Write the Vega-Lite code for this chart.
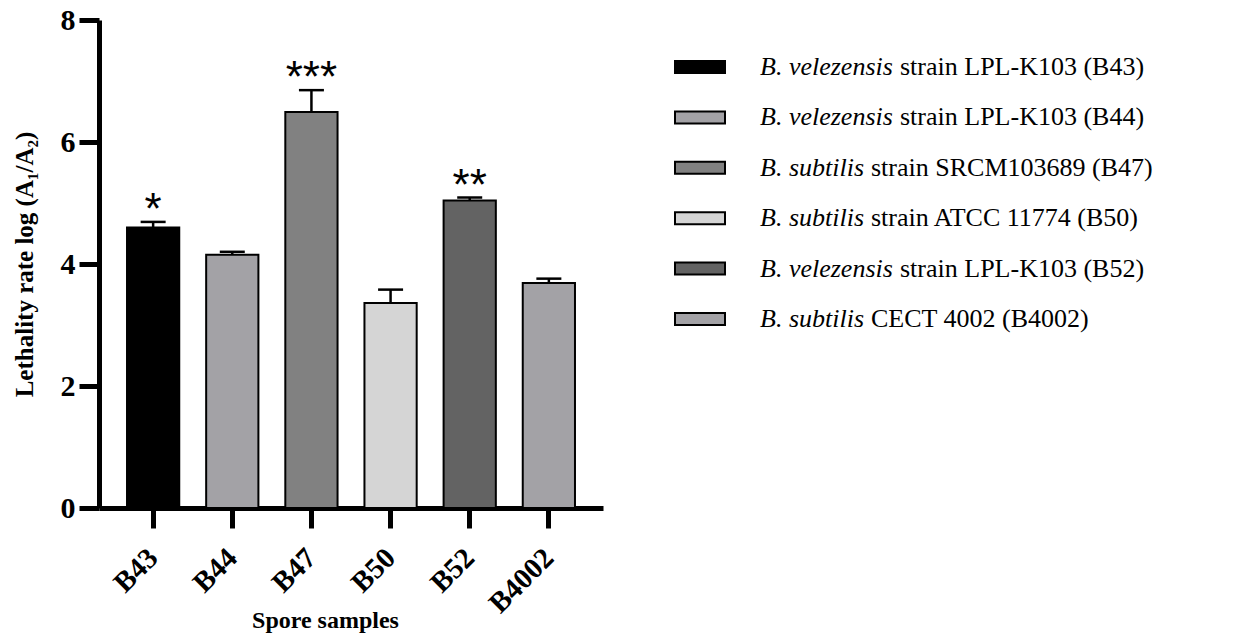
{
  "$schema": "https://vega.github.io/schema/vega-lite/v6.json",
  "padding": {"left": 12, "top": 5, "right": 5, "bottom": 5},
  "background": "white",
  "config": {
    "view": {"stroke": null},
    "font": "Liberation Serif",
    "concat": {"spacing": 47}
  },
  "bounds": "flush",
  "datasets": {
    "spores": [
      {"sample": "B43", "mean": 4.60, "upper": 4.69, "sig": "*", "species": "B. velezensis", "strain": "strain LPL-K103 (B43)"},
      {"sample": "B44", "mean": 4.15, "upper": 4.20, "sig": "", "species": "B. velezensis", "strain": "strain LPL-K103 (B44)"},
      {"sample": "B47", "mean": 6.49, "upper": 6.85, "sig": "***", "species": "B. subtilis", "strain": "strain SRCM103689 (B47)"},
      {"sample": "B50", "mean": 3.36, "upper": 3.58, "sig": "", "species": "B. subtilis", "strain": "strain ATCC 11774 (B50)"},
      {"sample": "B52", "mean": 5.04, "upper": 5.09, "sig": "**", "species": "B. velezensis", "strain": "strain LPL-K103 (B52)"},
      {"sample": "B4002", "mean": 3.69, "upper": 3.76, "sig": "", "species": "B. subtilis", "strain": "CECT 4002 (B4002)"}
    ]
  },
  "resolve": {"scale": {"x": "independent", "y": "independent"}},
  "hconcat": [
    {
      "width": 504,
      "height": 488,
      "data": {"name": "spores"},
      "encoding": {
        "x": {
          "field": "sample",
          "type": "nominal",
          "sort": null,
          "scale": {"type": "band", "paddingInner": 0.34, "paddingOuter": 0.354},
          "axis": {
            "title": "Spore samples",
            "labelAngle": -45,
            "labelAlign": "right",
            "labelBaseline": "middle",
            "labelPadding": 25,
            "labelFont": "Liberation Serif",
            "labelFontSize": 29,
            "labelFontWeight": "bold",
            "labelColor": "black",
            "tickSize": 20,
            "tickWidth": 5,
            "tickColor": "black",
            "domainWidth": 5,
            "domainColor": "black",
            "titleFont": "Liberation Serif",
            "titleFontSize": 24,
            "titleFontWeight": "bold",
            "titleColor": "black",
            "titleX": 226,
            "titleY": 119,
            "titleBaseline": "alphabetic"
          }
        }
      },
      "layer": [
        {
          "mark": {"type": "bar", "stroke": "black", "strokeWidth": 2},
          "encoding": {
            "y": {
              "field": "mean",
              "type": "quantitative",
              "scale": {"domain": [0, 8], "nice": false},
              "axis": {
                "title": "Lethality rate log (A₁/A₂)",
                "values": [0, 2, 4, 6, 8],
                "format": "d",
                "grid": false,
                "labelFont": "Liberation Serif",
                "labelFontSize": 30,
                "labelFontWeight": "bold",
                "labelColor": "black",
                "labelPadding": 4,
                "tickSize": 20,
                "tickWidth": 5,
                "tickColor": "black",
                "domainWidth": 5,
                "domainColor": "black",
                "titleFont": "Liberation Serif",
                "titleFontSize": 25,
                "titleFontWeight": "bold",
                "titleColor": "black",
                "titlePadding": 23
              }
            },
            "fill": {
              "field": "sample",
              "type": "nominal",
              "scale": {
                "domain": ["B43", "B44", "B47", "B50", "B52", "B4002"],
                "range": ["#000000", "#a3a2a6", "#818181", "#d5d5d5", "#636363", "#a3a2a6"]
              },
              "legend": null
            }
          }
        },
        {
          "mark": {"type": "rule", "strokeWidth": 2.5, "color": "black"},
          "encoding": {
            "y": {"field": "mean", "type": "quantitative"},
            "y2": {"field": "upper"}
          }
        },
        {
          "mark": {"type": "tick", "thickness": 2.5, "size": 25, "color": "black", "opacity": 1},
          "encoding": {"y": {"field": "upper", "type": "quantitative"}}
        },
        {
          "mark": {"type": "text", "font": "Liberation Sans", "fontSize": 44, "baseline": "alphabetic", "dy": 2, "color": "black"},
          "encoding": {
            "y": {"field": "upper", "type": "quantitative"},
            "text": {"field": "sig"}
          }
        }
      ]
    },
    {
      "width": 100,
      "height": 488,
      "data": {"name": "spores"},
      "encoding": {
        "y": {
          "field": "sample",
          "type": "nominal",
          "sort": null,
          "scale": {"type": "point", "padding": 0, "range": [47, 299]},
          "axis": null
        }
      },
      "layer": [
        {
          "mark": {"type": "point", "shape": "M-1,-0.24H1V0.24H-1Z", "size": 2500, "filled": true, "opacity": 1, "stroke": "black", "strokeWidth": 2},
          "encoding": {"fill": {"field": "sample", "type": "nominal", "legend": null}}
        },
        {
          "mark": {"type": "text", "align": "left", "baseline": "middle", "dx": 60, "font": "Liberation Serif", "fontSize": 26, "fontStyle": "italic", "color": "black"},
          "encoding": {"text": {"field": "species"}}
        },
        {
          "transform": [{"filter": "datum.species === 'B. velezensis'"}],
          "mark": {"type": "text", "align": "left", "baseline": "middle", "dx": 200, "font": "Liberation Serif", "fontSize": 26, "color": "black"},
          "encoding": {"text": {"field": "strain"}}
        },
        {
          "transform": [{"filter": "datum.species === 'B. subtilis'"}],
          "mark": {"type": "text", "align": "left", "baseline": "middle", "dx": 171, "font": "Liberation Serif", "fontSize": 26, "color": "black"},
          "encoding": {"text": {"field": "strain"}}
        }
      ]
    }
  ]
}
